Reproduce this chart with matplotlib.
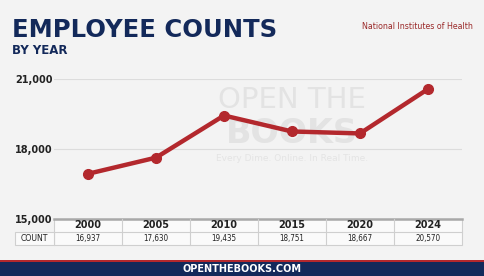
import matplotlib
matplotlib.use("Agg")
import matplotlib.pyplot as plt
from matplotlib.patches import Rectangle
from matplotlib.lines import Line2D

years = ["2000", "2005", "2010", "2015", "2020", "2024"]
counts = [16937, 17630, 19435, 18751, 18667, 20570]
yticks = [15000, 18000, 21000]

navy = "#13295a"
red = "#b3282d"
bg = "#f3f3f3"
narrow = ["DejaVu Sans"]

fig = plt.figure(figsize=(4.85, 2.76), dpi=100, facecolor=bg)

# header
fig.text(12 / 485, 1 - 37 / 276, "EMPLOYEE COUNTS", color=navy, fontsize=17.5,
         fontweight="black", va="baseline", ha="left")
fig.text(12 / 485, 1 - 54.5 / 276, "BY YEAR", color=navy, fontsize=8.5,
         fontweight="bold", va="baseline", ha="left")
fig.text(473 / 485, 1 - 29 / 276, "National Institutes of Health", color="#9b2a2a",
         fontsize=6.3, family=narrow, fontstretch="condensed", va="baseline", ha="right")

ax = fig.add_axes([54 / 485, 1 - 219 / 276, 408 / 485, 140 / 276])
ax.set_facecolor("none")
x = list(range(len(years)))

# faint watermark
ax.text(3.0, 20100, "OPEN THE", color="#e3e3e3", fontsize=21, ha="center", va="center", zorder=0)
ax.text(3.0, 18650, "BOOKS", color="#e3e3e3", fontsize=24, fontweight="bold", ha="center",
        va="center", zorder=0)
ax.text(3.0, 17600, "Every Dime. Online. In Real Time.", color="#e4e4e4", fontsize=6.5,
        ha="center", va="center", zorder=0)

for t in yticks[1:]:
    ax.axhline(t, color="#dcdcdc", lw=0.8, zorder=1)

ax.plot(x, counts, color=red, lw=3.2, marker="o", ms=7, mfc=red, mec=red, zorder=3)

ax.set_xlim(-0.5, len(years) - 0.5)
ax.set_ylim(yticks[0], yticks[-1])
ax.set_yticks(yticks)
ax.set_yticklabels([f"{t:,}" for t in yticks], fontsize=7, fontweight="bold", color="#222222")
ax.tick_params(axis="y", length=0, pad=1)
ax.set_xticks([])
for s in ax.spines.values():
    s.set_visible(False)

# table under the plot
tr = ax.get_xaxis_transform()
row_h = 13 / 140
ax.add_line(Line2D([-0.5, 5.5], [0, 0], transform=tr, color="#a8a8a8", lw=1.8, clip_on=False))
ax.add_patch(Rectangle((-0.5, -2 * row_h), 6, 2 * row_h, transform=tr, fc="#fafafa",
                       ec="#cfcfcf", lw=0.8, clip_on=False, zorder=0))
lab_w = 39 / 68
ax.add_patch(Rectangle((-0.5 - lab_w, -2 * row_h), lab_w, row_h, transform=tr, fc="#fafafa",
                       ec="#cfcfcf", lw=0.8, clip_on=False, zorder=0))
ax.add_line(Line2D([-0.5, 5.5], [-row_h, -row_h], transform=tr, color="#cfcfcf", lw=0.8,
                   clip_on=False))
for i in range(1, len(years)):
    ax.add_line(Line2D([i - 0.5, i - 0.5], [0, -2 * row_h], transform=tr, color="#cfcfcf",
                       lw=0.8, clip_on=False))
for i, (yr, c) in enumerate(zip(years, counts)):
    ax.text(i, -row_h * 0.5, yr, transform=tr, ha="center", va="center", fontsize=7,
            fontweight="bold", color="#222222")
    ax.text(i, -row_h * 1.5, f"{c:,}", transform=tr, ha="center", va="center", fontsize=5.8,
            family=narrow, fontstretch="condensed", color="#222222")
ax.text(-0.5 - lab_w / 2, -row_h * 1.5, "COUNT", transform=tr, ha="center", va="center",
        fontsize=6.2, family=narrow, fontstretch="condensed", color="#222222")

# footer band
fig.add_artist(Rectangle((0, 0), 1, 16.5 / 276, transform=fig.transFigure, fc="#b3282d", ec="none"))
fig.add_artist(Rectangle((0, 0), 1, 14 / 276, transform=fig.transFigure, fc=navy, ec="none"))
fig.text(0.5, 7 / 276, "OPENTHEBOOKS.COM", color="white", fontsize=7, fontweight="black",
         ha="center", va="center")

fig.savefig("out.png", dpi=100, facecolor=bg)
